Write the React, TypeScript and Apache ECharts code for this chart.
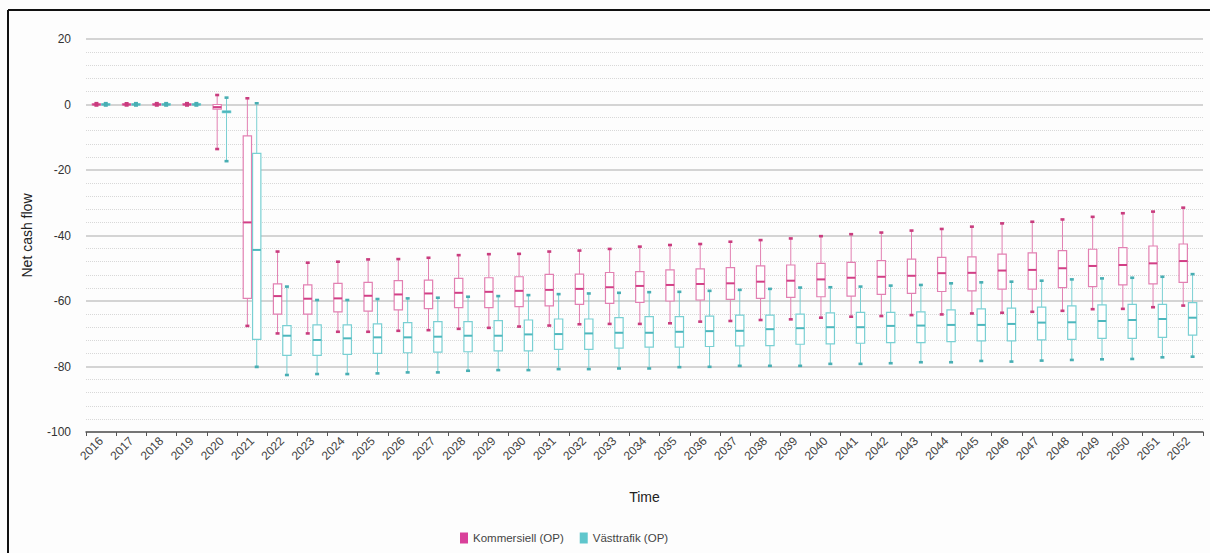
import React, { useEffect, useRef } from "react";
import * as echarts from "echarts";

const years: string[] = [];
for (let y = 2016; y <= 2052; y++) years.push(String(y));

// [low, q1, median, q3, high]
const kommersiell: number[][] = [
  [-0.3, -0.1, 0, 0.2, 0.4],
  [-0.3, -0.1, 0, 0.2, 0.4],
  [-0.3, -0.1, 0, 0.2, 0.4],
  [-0.3, -0.1, 0, 0.2, 0.4],
  [-13.6, -1.4, -0.8, 0, 2.9],
  [-67.6, -59.2, -36, -9.6, 1.9],
  [-69.9, -64, -58.5, -54.8, -44.9],
  [-69.9, -64, -59.3, -55.1, -48.3],
  [-69.4, -63.3, -59.2, -54.6, -48.0],
  [-69.4, -63.1, -58.4, -54.3, -47.3],
  [-69.1, -62.7, -58.0, -53.8, -47.2],
  [-68.9, -62.3, -57.7, -53.6, -46.8],
  [-68.5, -62.0, -57.5, -53.1, -46.0],
  [-68.2, -62.0, -57.2, -52.9, -45.7],
  [-67.8, -61.7, -56.9, -52.6, -45.6],
  [-67.5, -61.5, -56.6, -51.9, -44.9],
  [-67.1, -61.0, -56.3, -51.8, -44.6],
  [-67.0, -60.7, -55.8, -51.3, -44.1],
  [-67.0, -60.4, -55.4, -51.0, -43.4],
  [-66.8, -60.0, -55.1, -50.5, -42.9],
  [-66.3, -59.7, -54.8, -50.2, -42.6],
  [-66.1, -59.5, -54.6, -49.8, -41.9],
  [-65.8, -59.2, -54.1, -49.3, -41.4],
  [-65.6, -58.9, -53.8, -49.0, -40.9],
  [-65.1, -58.7, -53.4, -48.5, -40.2],
  [-64.8, -58.5, -52.9, -48.2, -39.6],
  [-64.6, -58.0, -52.6, -47.7, -39.1],
  [-64.3, -57.7, -52.3, -47.2, -38.5],
  [-64.1, -57.1, -51.5, -46.7, -38.0],
  [-63.8, -56.9, -51.4, -46.5, -37.3],
  [-63.6, -56.4, -50.7, -45.7, -36.3],
  [-63.3, -56.4, -50.5, -45.3, -35.8],
  [-63.0, -55.9, -50.0, -44.6, -35.1],
  [-62.5, -55.6, -49.3, -44.2, -34.3],
  [-62.4, -55.1, -49.0, -43.7, -33.2],
  [-61.9, -54.8, -48.5, -43.2, -32.7],
  [-61.4, -54.3, -47.8, -42.6, -31.5],
];

const vasttrafik: number[][] = [
  [-0.3, -0.1, 0, 0.2, 0.4],
  [-0.3, -0.1, 0, 0.2, 0.4],
  [-0.3, -0.1, 0, 0.2, 0.4],
  [-0.3, -0.1, 0, 0.2, 0.4],
  [-17.3, -2.5, -2.2, -2.0, 2.1],
  [-80.1, -71.7, -44.4, -14.9, 0.4],
  [-82.6, -76.6, -70.6, -67.5, -55.6],
  [-82.3, -76.6, -71.9, -67.3, -59.7],
  [-82.3, -76.3, -71.4, -67.3, -59.7],
  [-82.1, -76.0, -71.1, -67.0, -59.4],
  [-81.8, -75.8, -71.1, -66.6, -59.2],
  [-81.8, -75.6, -70.9, -66.3, -59.0],
  [-81.3, -75.5, -70.6, -66.3, -58.7],
  [-81.1, -75.2, -70.6, -66.0, -58.5],
  [-81.1, -75.2, -70.2, -65.8, -58.2],
  [-80.8, -74.8, -70.1, -65.5, -57.9],
  [-80.8, -74.8, -69.9, -65.5, -57.7],
  [-80.6, -74.4, -69.7, -65.1, -57.5],
  [-80.6, -74.1, -69.7, -64.8, -57.3],
  [-80.2, -74.1, -69.4, -64.8, -57.2],
  [-80.1, -73.9, -69.2, -64.6, -56.9],
  [-79.8, -73.7, -69.1, -64.3, -56.6],
  [-79.8, -73.6, -68.6, -64.3, -56.3],
  [-79.8, -73.2, -68.3, -64.0, -55.9],
  [-79.2, -73.1, -68.0, -63.6, -55.8],
  [-79.2, -72.9, -68.0, -63.5, -55.6],
  [-79.0, -72.7, -67.6, -63.5, -55.3],
  [-78.7, -72.7, -67.5, -63.3, -55.1],
  [-78.7, -72.4, -67.3, -62.7, -54.6],
  [-78.3, -72.2, -67.3, -62.4, -54.3],
  [-78.5, -72.2, -67.0, -62.2, -54.1],
  [-78.2, -71.9, -66.6, -61.9, -53.8],
  [-78.0, -71.7, -66.5, -61.5, -53.4],
  [-77.8, -71.4, -66.1, -61.2, -53.1],
  [-77.7, -71.4, -65.8, -61.0, -52.9],
  [-77.2, -71.1, -65.5, -61.0, -52.6],
  [-77.0, -70.4, -65.1, -60.5, -51.8],
];

const FONT = "'Liberation Sans', Arial, Helvetica, sans-serif";

function makeRender(offsetFrac: number, colors: { box: string; med: string; cap: string }) {
  return (params: any, api: any) => {
    const xi = api.value(0);
    const pts = [1, 2, 3, 4, 5].map((i) => api.coord([xi, api.value(i)]));
    const bw = api.size([1, 0])[0];
    const cx = pts[0][0] + offsetFrac * bw;
    const w = 0.275 * bw;
    const [low, q1, med, q3, high] = pts.map((p: number[]) => p[1]);
    const lineStyle = { stroke: colors.box, lineWidth: 1 };
    return {
      type: "group",
      children: [
        { type: "line", shape: { x1: cx, y1: high, x2: cx, y2: q3 }, style: lineStyle },
        { type: "line", shape: { x1: cx, y1: q1, x2: cx, y2: low }, style: lineStyle },
        {
          type: "rect",
          shape: { x: cx - w / 2, y: q3, width: w, height: Math.max(q1 - q3, 0.5) },
          style: { fill: "#ffffff", stroke: colors.box, lineWidth: 1.2 },
        },
        {
          type: "line",
          shape: { x1: cx - w / 2, y1: med, x2: cx + w / 2, y2: med },
          style: { stroke: colors.med, lineWidth: 2 },
        },
        { type: "rect", shape: { x: cx - 2, y: high - 1.3, width: 4, height: 2.6 }, style: { fill: colors.cap } },
        { type: "rect", shape: { x: cx - 2, y: low - 1.3, width: 4, height: 2.6 }, style: { fill: colors.cap } },
      ],
    };
  };
}

export default function App() {
  const ref = useRef<HTMLDivElement>(null);
  useEffect(() => {
    if (!ref.current) return;
    const chart = echarts.init(ref.current, null, { renderer: "svg" });
    const toData = (arr: number[][]) => arr.map((d, i) => [i, ...d]);
    chart.setOption({
      animation: false,
      backgroundColor: "#fdfdfd",
      textStyle: { fontFamily: FONT },
      grid: { left: 86, right: 7, top: 39, bottom: 121 },
      legend: {
        left: 455,
        top: 527,
        icon: "rect",
        itemWidth: 8,
        itemHeight: 11,
        itemGap: 16,
        textStyle: { fontSize: 11.5, color: "#444", fontFamily: FONT },
        data: ["Kommersiell (OP)", "Västtrafik (OP)"],
      },
      xAxis: {
        type: "category",
        data: years,
        boundaryGap: true,
        name: "Time",
        nameLocation: "middle",
        nameGap: 58,
        nameTextStyle: { fontSize: 14, color: "#222", fontFamily: FONT },
        axisLine: { onZero: false, lineStyle: { color: "#555", width: 1.5 } },
        axisTick: { show: true, length: 4, lineStyle: { color: "#555" } },
        axisLabel: { rotate: 45, interval: 0, fontSize: 12, color: "#444", margin: 7 },
        splitLine: { show: false },
      },
      yAxis: {
        type: "value",
        min: -100,
        max: 20,
        interval: 20,
        name: "Net cash flow",
        nameLocation: "middle",
        nameGap: 52,
        nameTextStyle: { fontSize: 14, color: "#222", fontFamily: FONT },
        axisLine: { show: false },
        axisTick: { show: false },
        axisLabel: { fontSize: 12, color: "#333", margin: 15 },
        splitLine: { show: true, lineStyle: { color: "#c6c6c6", width: 1.5 } },
        minorTick: { show: false, splitNumber: 5 },
        minorSplitLine: { show: true, lineStyle: { color: "#d8d8d8", type: "dotted", width: 1 } },
      },
      graphic: [
        { type: "line", shape: { x1: 8, y1: 10, x2: 1210, y2: 10 }, style: { stroke: "#111", lineWidth: 2 } },
        { type: "line", shape: { x1: 8, y1: 10, x2: 8, y2: 553 }, style: { stroke: "#111", lineWidth: 2 } },
      ],
      series: [
        {
          name: "Kommersiell (OP)",
          type: "custom",
          itemStyle: { color: "#d9409a" },
          encode: { x: 0, y: [1, 2, 3, 4, 5] },
          renderItem: makeRender(-0.155, { box: "#e280b2", med: "#d23f86", cap: "#c93c7e" }),
          data: toData(kommersiell),
          z: 3,
        },
        {
          name: "Västtrafik (OP)",
          type: "custom",
          itemStyle: { color: "#5fc6cc" },
          encode: { x: 0, y: [1, 2, 3, 4, 5] },
          renderItem: makeRender(0.155, { box: "#7ad0d3", med: "#4db7bd", cap: "#48aeb3" }),
          data: toData(vasttrafik),
          z: 3,
        },
      ],
    });
    return () => chart.dispose();
  }, []);
  return (
    <div
      ref={ref}
      style={{ position: "fixed", left: 0, top: 0, width: 1210, height: 553 }}
    />
  );
}
